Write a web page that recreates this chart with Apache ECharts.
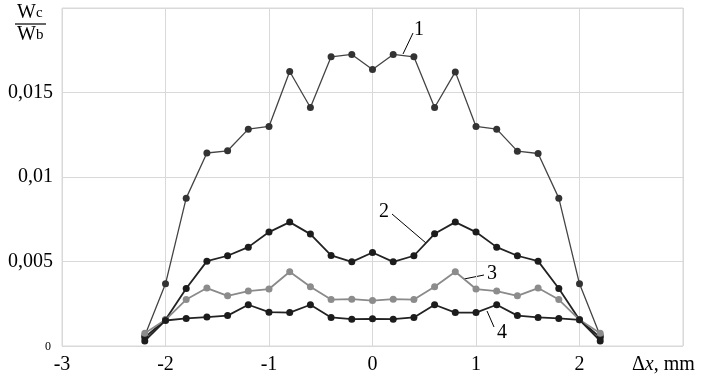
<!DOCTYPE html>
<html>
<head>
<meta charset="utf-8">
<script src="https://cdn.jsdelivr.net/npm/echarts@6/dist/echarts.min.js"></script>
<style>
  html, body { margin: 0; padding: 0; background: #fff; }
  #chart { width: 702px; height: 377px; }
</style>
</head>
<body>
<div id="chart"></div>
<script>
// положения по оси x, мм
const dx = [-2.2, -2.0, -1.8, -1.6, -1.4, -1.2, -1.0, -0.8, -0.6, -0.4, -0.2, 0,
  0.2, 0.4, 0.6, 0.8, 1.0, 1.2, 1.4, 1.6, 1.8, 2.0, 2.2];
// кривые 1..4 (Wc/Wb)
const curve1 = [0.0006, 0.00368, 0.00875, 0.01142, 0.01155, 0.01283, 0.01299, 0.01624, 0.01411, 0.01711, 0.01725, 0.01636,
  0.01725, 0.01711, 0.01411, 0.01622, 0.01299, 0.01283, 0.01153, 0.01139, 0.00875, 0.00368, 0.0006];
const curve2 = [0.0005, 0.00155, 0.0034, 0.00502, 0.00534, 0.00585, 0.00674, 0.00733, 0.00662, 0.00536, 0.00498, 0.00553,
  0.00498, 0.00534, 0.00664, 0.00733, 0.00674, 0.00585, 0.00534, 0.00502, 0.0034, 0.00155, 0.0005];
const curve3 = [0.00076, 0.00155, 0.00275, 0.00343, 0.00297, 0.00325, 0.00337, 0.00439, 0.0035, 0.00275, 0.00277, 0.00269,
  0.00277, 0.00275, 0.0035, 0.00439, 0.00337, 0.00325, 0.00297, 0.00343, 0.00275, 0.00155, 0.00076];
const curve4 = [0.0003, 0.00151, 0.00163, 0.00171, 0.0018, 0.00244, 0.002, 0.00198, 0.00244, 0.00169, 0.00159, 0.00161,
  0.00159, 0.00169, 0.00244, 0.00198, 0.00198, 0.00244, 0.0018, 0.00169, 0.00163, 0.00155, 0.0003];

const serif = "Liberation Serif";
const pair = (ys) => dx.map((x, i) => [x, ys[i]]);

function line(name, ys, lineColor, dotColor, width) {
  return {
    name: name,
    type: "line",
    data: pair(ys),
    symbol: "circle",
    symbolSize: 7,
    lineStyle: { color: lineColor, width: width },
    itemStyle: { color: dotColor },
    emphasis: { disabled: true },
  };
}

const chart = echarts.init(document.getElementById("chart"));
chart.setOption({
  animation: false,
  grid: { left: 62, right: 19, top: 8, bottom: 31 },
  xAxis: {
    type: "value",
    min: -3,
    max: 3,
    interval: 1,
    axisLine: { show: false },
    axisTick: { show: false },
    splitLine: { lineStyle: { color: "#d9d9d9" } },
    axisLabel: {
      margin: 9,
      color: "#000",
      fontFamily: serif,
      fontSize: 20,
      formatter: (v) => (v === 3 ? "" : String(v)),
    },
  },
  yAxis: {
    type: "value",
    min: 0,
    max: 0.02,
    interval: 0.005,
    axisLine: { show: false },
    axisTick: { show: false },
    splitLine: { lineStyle: { color: "#d9d9d9" } },
    axisLabel: {
      margin: 9,
      color: "#000",
      fontFamily: serif,
      fontSize: 20,
      formatter: (v) => {
        if (v === 0) return "{s|0}";
        if (Math.abs(v - 0.02) < 1e-9) return "";
        return String(+v.toFixed(3)).replace(".", ",");
      },
      rich: { s: { fontSize: 12, fontFamily: serif, color: "#000", padding: [2, 2, 0, 0] } },
    },
  },
  series: [
    line("1", curve1, "#444", "#333", 1.3),
    line("2", curve2, "#222", "#1c1c1c", 1.8),
    line("3", curve3, "#8a8a8a", "#8c8c8c", 1.8),
    line("4", curve4, "#222", "#1c1c1c", 1.8),
  ],
  graphic: [
    // рамка графика
    { type: "rect", shape: { x: 62, y: 8, width: 621, height: 338 }, style: { fill: "none", stroke: "#d9d9d9", lineWidth: 1 }, z: 0 },
    // Wc / Wb
    { type: "text", left: 17, top: 3, style: { text: "W{s|c}", fontFamily: serif, fontSize: 20, fill: "#000", rich: { s: { fontSize: 15, fontFamily: serif, fill: "#000" } } } },
    { type: "line", shape: { x1: 15, y1: 24, x2: 46, y2: 24 }, style: { stroke: "#000", lineWidth: 1.2 } },
    { type: "text", left: 17, top: 25, style: { text: "W{s|b}", fontFamily: serif, fontSize: 20, fill: "#000", rich: { s: { fontSize: 15, fontFamily: serif, fill: "#000" } } } },
    // подпись оси x
    { type: "text", left: 632, top: 355, style: { text: "Δ{i|x}, mm", fontFamily: serif, fontSize: 20, fill: "#000", rich: { i: { fontStyle: "italic", fontFamily: serif, fontSize: 20, fill: "#000" } } } },
    // номера кривых и выноски
    { type: "text", x: 419, y: 30, style: { text: "1", fontFamily: serif, fontSize: 20, fill: "#000", align: "center", verticalAlign: "middle" } },
    { type: "line", shape: { x1: 413, y1: 33, x2: 403, y2: 54 }, style: { stroke: "#000", lineWidth: 1 } },
    { type: "text", x: 384, y: 212, style: { text: "2", fontFamily: serif, fontSize: 20, fill: "#000", align: "center", verticalAlign: "middle" } },
    { type: "line", shape: { x1: 392, y1: 214, x2: 426, y2: 243 }, style: { stroke: "#000", lineWidth: 1 } },
    { type: "text", x: 492, y: 274, style: { text: "3", fontFamily: serif, fontSize: 20, fill: "#000", align: "center", verticalAlign: "middle" } },
    { type: "line", shape: { x1: 484, y1: 275, x2: 464, y2: 279 }, style: { stroke: "#000", lineWidth: 1 } },
    { type: "text", x: 502, y: 333, style: { text: "4", fontFamily: serif, fontSize: 20, fill: "#000", align: "center", verticalAlign: "middle" } },
    { type: "line", shape: { x1: 494, y1: 327, x2: 487, y2: 311 }, style: { stroke: "#000", lineWidth: 1 } },
  ],
});
</script>
</body>
</html>
